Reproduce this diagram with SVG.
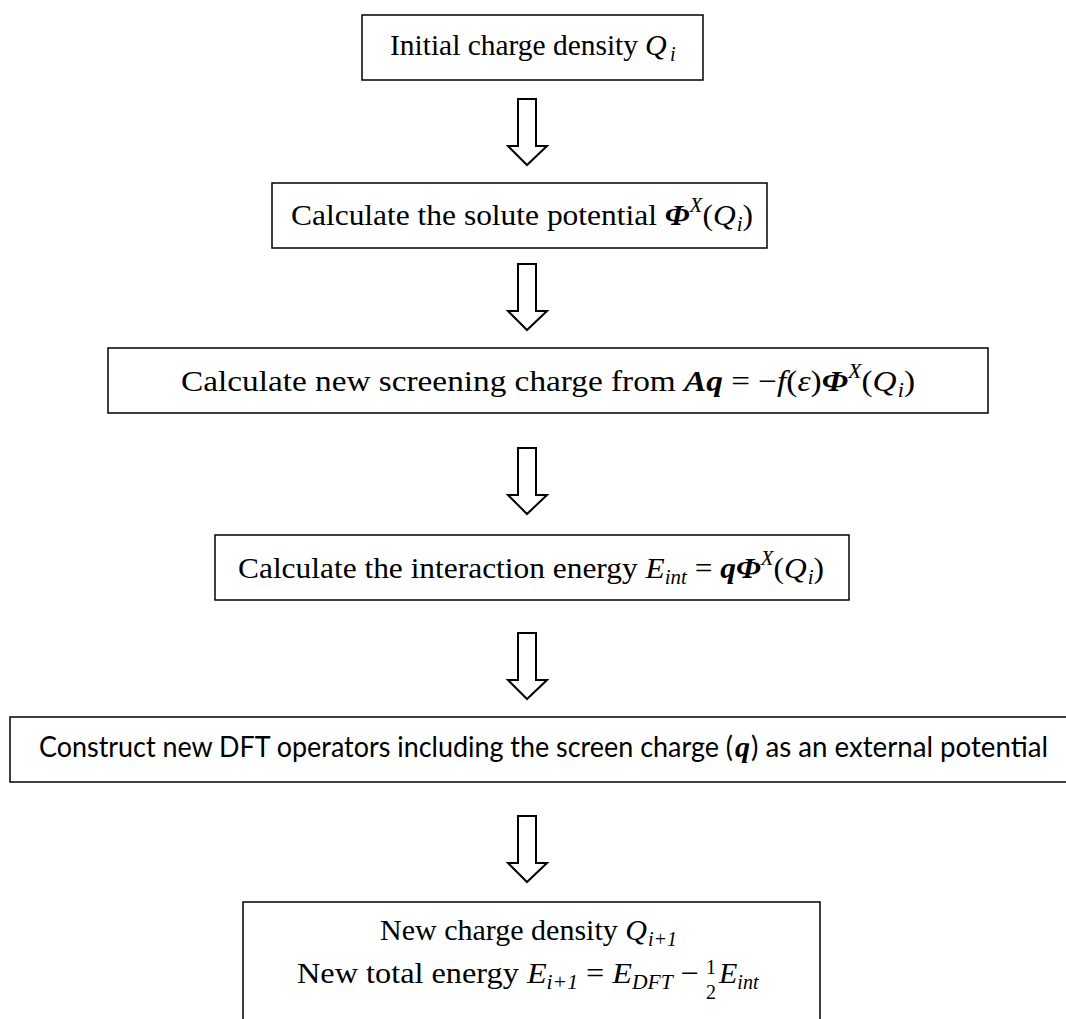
<svg xmlns="http://www.w3.org/2000/svg" width="1066" height="1019" viewBox="0 0 1066 1019">
<style>
.box{fill:#fff;stroke:#000;stroke-width:1.5}
.arr{fill:#fff;stroke:#000;stroke-width:2;stroke-linejoin:miter}
text{font-family:"Liberation Serif","Times New Roman",serif;font-size:30px;fill:#000}
.sans{font-family:Lato,"Open Sans","Liberation Sans",sans-serif;font-size:29px}
.mi{font-style:italic}
.mb{font-style:italic;font-weight:bold}
.s{font-size:20px}
</style>
<rect width="1066" height="1019" fill="#fff"/>
<g id="connectors">
<path class="arr" d="M518 99H536V146H547L527 165L508 146H518Z"/>
<path class="arr" d="M518 264H536V311H547L527 330L508 311H518Z"/>
<path class="arr" d="M518 448H536V495H547L527 514L508 495H518Z"/>
<path class="arr" d="M518 633H536V680H547L527 699L508 680H518Z"/>
<path class="arr" d="M518 816H536V863H547L527 882L508 863H518Z"/>
</g>
<g id="n1">
<rect class="box" x="362" y="15" width="341" height="65"/>
<text x="390" y="55" textLength="248" lengthAdjust="spacingAndGlyphs">Initial charge density</text>
<text class="mi" x="645" y="55">Q</text>
<text class="mi s" x="670" y="61">i</text>
</g>
<g id="n2">
<rect class="box" x="272" y="183" width="495" height="65"/>
<text x="291" y="225" textLength="462" lengthAdjust="spacingAndGlyphs">Calculate the solute potential <tspan class="mb">Φ</tspan><tspan class="mi s" dy="-13">X</tspan><tspan dy="13">(</tspan><tspan class="mi">Q</tspan><tspan class="mi s" dx="1" dy="6">i</tspan><tspan dy="-6">)</tspan></text>
</g>
<g id="n3">
<rect class="box" x="108" y="348" width="880" height="65"/>
<text x="181" y="391" textLength="734" lengthAdjust="spacingAndGlyphs">Calculate new screening charge from <tspan class="mb">Aq</tspan> = −<tspan class="mi">f</tspan>(<tspan class="mi">ε</tspan>)<tspan class="mb">Φ</tspan><tspan class="mi s" dy="-13">X</tspan><tspan dy="13">(</tspan><tspan class="mi">Q</tspan><tspan class="mi s" dx="1" dy="6">i</tspan><tspan dy="-6">)</tspan></text>
</g>
<g id="n4">
<rect class="box" x="215" y="535" width="634" height="65"/>
<text x="238" y="578" textLength="586" lengthAdjust="spacingAndGlyphs">Calculate the interaction energy <tspan class="mi">E</tspan><tspan class="mi s" dy="6">int</tspan><tspan dy="-6"> = </tspan><tspan class="mb">qΦ</tspan><tspan class="mi s" dy="-13">X</tspan><tspan dy="13">(</tspan><tspan class="mi">Q</tspan><tspan class="mi s" dx="1" dy="6">i</tspan><tspan dy="-6">)</tspan></text>
</g>
<g id="n5">
<rect class="box" x="10" y="717" width="1070" height="65"/>
<text class="sans" x="39" y="757" textLength="694" lengthAdjust="spacingAndGlyphs">Construct new DFT operators including the screen charge (</text>
<text class="mb" x="735" y="757">q</text>
<text class="sans" x="751" y="757" textLength="297" lengthAdjust="spacingAndGlyphs">) as an external potential</text>
</g>
<g id="n6">
<rect class="box" x="243" y="902" width="577" height="140"/>
<text x="380" y="940" textLength="297" lengthAdjust="spacingAndGlyphs">New charge density <tspan class="mi">Q</tspan><tspan class="mi s" dx="1" dy="6">i+1</tspan></text>
<text x="297" y="983" textLength="402" lengthAdjust="spacingAndGlyphs">New total energy <tspan class="mi">E</tspan><tspan class="mi s" dy="6">i+1</tspan><tspan dy="-6"> = </tspan><tspan class="mi">E</tspan><tspan class="mi s" dy="6">DFT</tspan><tspan dy="-6"> −</tspan></text>
<text class="s" x="706" y="974">1</text>
<text class="s" x="706" y="999">2</text>
<text x="719" y="983"><tspan class="mi">E</tspan><tspan class="mi s" dy="6">int</tspan></text>
</g>
</svg>
